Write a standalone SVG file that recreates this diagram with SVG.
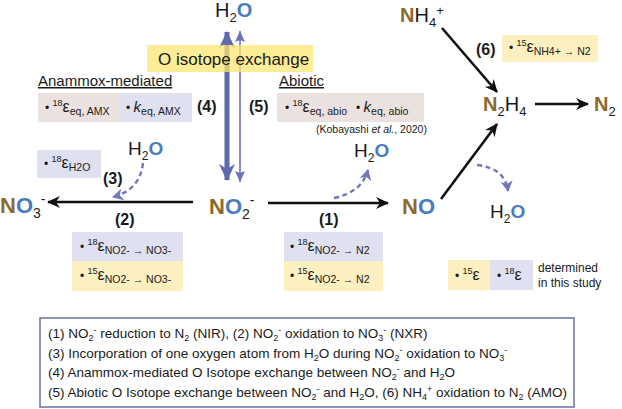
<svg xmlns="http://www.w3.org/2000/svg" width="622" height="409" viewBox="0 0 622 409">
<style>
text{font-family:"Liberation Sans",Arial,Helvetica,sans-serif;fill:#1a1a1a}
.n{fill:#8b6a2e;font-weight:bold}
.o{fill:#4a7bbf;font-weight:bold}
.chem{font-size:20px}
.num{font-size:16px;font-weight:bold}
.bx{font-size:12px}
.pink{fill:#ebe2e0}
.lav{fill:#e0e1f0}
.yel{fill:#fcf0c0}
.blk{stroke:#111;stroke-width:2.6;fill:none}
.dash{stroke:#7277bb;stroke-width:2.4;fill:none;stroke-dasharray:5 3.5}
.lg{font-size:13.5px}
.e{font-size:16px}
.s{font-size:10.5px}
</style>
<defs>
<marker id="ah" markerUnits="userSpaceOnUse" viewBox="0 0 14 14" markerWidth="14" markerHeight="14" refX="12" refY="7" orient="auto-start-reverse">
<path d="M0,1 L13,7 L0,13 L4,7 z" fill="#111"/>
</marker>
<marker id="ahb" markerUnits="userSpaceOnUse" viewBox="0 0 18 18" markerWidth="18" markerHeight="18" refX="16" refY="9" orient="auto-start-reverse">
<path d="M0,1 L17,9 L0,17 L5,9 z" fill="#5f69ad"/>
</marker>
<marker id="ahs" markerUnits="userSpaceOnUse" viewBox="0 0 12 12" markerWidth="12" markerHeight="12" refX="11" refY="6" orient="auto-start-reverse">
<path d="M0,1 L11,6 L0,11 L2,6 z" fill="#6a73b5"/>
</marker>
<marker id="ahd" markerUnits="userSpaceOnUse" viewBox="0 0 12 12" markerWidth="12" markerHeight="12" refX="10" refY="6" orient="auto">
<path d="M0,0 L11,6 L0,12 L3,6 z" fill="#7277bb"/>
</marker>
</defs>

<g id="connectors">
<line x1="227" y1="32" x2="227" y2="180" stroke="#5f69ad" stroke-width="5" marker-start="url(#ahb)" marker-end="url(#ahb)"/>
<line x1="240" y1="31" x2="240" y2="182" stroke="#6a73b5" stroke-width="1.6" marker-start="url(#ahs)" marker-end="url(#ahs)"/>
<line x1="193" y1="202" x2="48" y2="202" class="blk" marker-end="url(#ah)"/>
<line x1="268" y1="203" x2="388" y2="203" class="blk" marker-end="url(#ah)"/>
<line x1="441" y1="199" x2="497" y2="124" class="blk" marker-end="url(#ah)"/>
<line x1="442" y1="28" x2="497" y2="92" class="blk" marker-end="url(#ah)"/>
<line x1="535" y1="104" x2="588" y2="104" class="blk" marker-end="url(#ah)"/>
<path d="M143,163 Q140,190 113,197" class="dash" marker-end="url(#ahd)"/>
<path d="M334,198 Q362,192 368,170" class="dash" marker-end="url(#ahd)"/>
<path d="M477,165 Q505,168 508,191" class="dash" marker-end="url(#ahd)"/>
</g>

<g id="exchange-label">
<rect x="147" y="45" width="166" height="27" fill="#fbe672" opacity="0.75"/>
<text x="158" y="65" font-size="17">O isotope exchange</text>
</g>

<g id="h2o-top">
<text x="215" y="17" class="chem">H<tspan font-size="13" dy="5">2</tspan><tspan class="o" dy="-5">O</tspan></text>
</g>

<g id="anammox">
<text x="38" y="86" font-size="15" text-decoration="underline">Anammox-mediated</text>
<rect x="38" y="93" width="82" height="29" class="pink"/>
<rect x="120" y="93" width="72" height="29" class="lav"/>
<text x="45" y="112" class="bx">• <tspan font-size="9" dy="-6">18</tspan><tspan class="e" dy="6">ε</tspan><tspan class="s" dy="3">eq, AMX</tspan></text>
<text x="126" y="112" class="bx">• <tspan font-size="15" font-style="italic">k</tspan><tspan class="s" dy="3">eq, AMX</tspan></text>
<text x="197" y="112" class="num">(4)</text>
</g>

<g id="abiotic">
<text x="249" y="112" class="num">(5)</text>
<text x="279" y="86" font-size="15" text-decoration="underline">Abiotic</text>
<rect x="277" y="93" width="147" height="29" class="pink"/>
<text x="285" y="112" class="bx">• <tspan font-size="9" dy="-6">18</tspan><tspan class="e" dy="6">ε</tspan><tspan class="s" dy="3">eq, abio</tspan></text>
<text x="356" y="112" class="bx">• <tspan font-size="15" font-style="italic">k</tspan><tspan class="s" dy="3">eq, abio</tspan></text>
<text x="316" y="133" font-size="10.5">(Kobayashi <tspan font-style="italic">et al.</tspan>, 2020)</text>
</g>

<g id="nh4">
<text x="400" y="22" class="chem"><tspan class="n">N</tspan>H<tspan font-size="13" dy="5">4</tspan><tspan font-size="13" dy="-12">+</tspan></text>
<text x="476" y="55" class="num">(6)</text>
<rect x="502" y="35" width="96" height="27" class="yel"/>
<text x="509" y="52" class="bx">• <tspan font-size="9" dy="-6">15</tspan><tspan class="e" dy="6">ε</tspan><tspan class="s" dy="3">NH4+ → N2</tspan></text>
</g>

<g id="n2h4">
<text x="483" y="111" class="chem"><tspan class="n">N</tspan><tspan font-size="13" dy="5">2</tspan><tspan dy="-5">H</tspan><tspan font-size="13" dy="5">4</tspan></text>
</g>

<g id="n2">
<text x="594" y="111" class="chem"><tspan class="n">N</tspan><tspan font-size="13" dy="5">2</tspan></text>
</g>

<g id="eps-h2o">
<rect x="37" y="150" width="64" height="28" class="lav"/>
<text x="44" y="168" class="bx">• <tspan font-size="9" dy="-6">18</tspan><tspan class="e" dy="6">ε</tspan><tspan class="s" dy="3">H2O</tspan></text>
<text x="103" y="184" class="num">(3)</text>
</g>

<g id="h2o-3">
<text x="128" y="155" font-size="19">H<tspan font-size="12" dy="5">2</tspan><tspan class="o" dy="-5">O</tspan></text>
</g>

<g id="no3">
<text x="0" y="213" font-size="22"><tspan class="n">N</tspan><tspan class="o">O</tspan><tspan font-size="14" dy="5">3</tspan><tspan font-size="14" dy="-14">-</tspan></text>
</g>

<g id="no2">
<text x="209" y="214" font-size="22"><tspan class="n">N</tspan><tspan class="o">O</tspan><tspan font-size="14" dy="5">2</tspan><tspan font-size="14" dy="-14">-</tspan></text>
</g>

<g id="nxr">
<text x="115" y="225" class="num">(2)</text>
<rect x="72" y="232" width="111" height="29" class="lav"/>
<rect x="72" y="261" width="111" height="30" class="yel"/>
<text x="80" y="251" class="bx">• <tspan font-size="9" dy="-6">18</tspan><tspan class="e" dy="6">ε</tspan><tspan class="s" dy="3">NO2- → NO3-</tspan></text>
<text x="80" y="280" class="bx">• <tspan font-size="9" dy="-6">15</tspan><tspan class="e" dy="6">ε</tspan><tspan class="s" dy="3">NO2- → NO3-</tspan></text>
</g>

<g id="nir">
<text x="319" y="225" class="num">(1)</text>
<rect x="284" y="232" width="99" height="29" class="lav"/>
<rect x="284" y="261" width="99" height="30" class="yel"/>
<text x="290" y="251" class="bx">• <tspan font-size="9" dy="-6">18</tspan><tspan class="e" dy="6">ε</tspan><tspan class="s" dy="3">NO2- → N2</tspan></text>
<text x="290" y="280" class="bx">• <tspan font-size="9" dy="-6">15</tspan><tspan class="e" dy="6">ε</tspan><tspan class="s" dy="3">NO2- → N2</tspan></text>
</g>

<g id="h2o-1">
<text x="354" y="157" font-size="19">H<tspan font-size="12" dy="5">2</tspan><tspan class="o" dy="-5">O</tspan></text>
</g>

<g id="no">
<text x="402" y="214" font-size="22"><tspan class="n">N</tspan><tspan class="o">O</tspan></text>
</g>

<g id="h2o-no">
<text x="490" y="218" font-size="19">H<tspan font-size="12" dy="5">2</tspan><tspan class="o" dy="-5">O</tspan></text>
</g>

<g id="key">
<rect x="448" y="260" width="42" height="30" class="yel"/>
<rect x="490" y="260" width="43" height="30" class="lav"/>
<text x="455" y="280" class="bx">• <tspan font-size="9" dy="-6">15</tspan><tspan class="e" dy="6">ε</tspan></text>
<text x="497" y="280" class="bx">• <tspan font-size="9" dy="-6">18</tspan><tspan class="e" dy="6">ε</tspan></text>
<text x="538" y="272" font-size="12">determined</text>
<text x="538" y="287" font-size="12">in this study</text>
</g>

<g id="legend">
<rect x="40" y="318" width="534" height="89" fill="#fff" stroke="#6a73a8" stroke-width="1.5"/>
<text x="48" y="338" class="lg">(1) NO<tspan font-size="9" dy="3">2</tspan><tspan font-size="9" dy="-8">-</tspan><tspan dy="5"> reduction to N</tspan><tspan font-size="9" dy="3">2</tspan><tspan dy="-3"> (NIR),  (2) NO</tspan><tspan font-size="9" dy="3">2</tspan><tspan font-size="9" dy="-8">-</tspan><tspan dy="5"> oxidation to NO</tspan><tspan font-size="9" dy="3">3</tspan><tspan font-size="9" dy="-8">-</tspan><tspan dy="5"> (NXR)</tspan></text>
<text x="48" y="358" class="lg">(3) Incorporation of one oxygen atom from H<tspan font-size="9" dy="3">2</tspan><tspan dy="-3">O during NO</tspan><tspan font-size="9" dy="3">2</tspan><tspan font-size="9" dy="-8">-</tspan><tspan dy="5"> oxidation to NO</tspan><tspan font-size="9" dy="3">3</tspan><tspan font-size="9" dy="-8">-</tspan></text>
<text x="48" y="377" class="lg">(4) Anammox-mediated O Isotope exchange between NO<tspan font-size="9" dy="3">2</tspan><tspan font-size="9" dy="-8">-</tspan><tspan dy="5"> and H</tspan><tspan font-size="9" dy="3">2</tspan><tspan dy="-3">O</tspan></text>
<text x="48" y="397" class="lg">(5) Abiotic O Isotope exchange between NO<tspan font-size="9" dy="3">2</tspan><tspan font-size="9" dy="-8">-</tspan><tspan dy="5"> and H</tspan><tspan font-size="9" dy="3">2</tspan><tspan dy="-3">O,  (6) NH</tspan><tspan font-size="9" dy="3">4</tspan><tspan font-size="9" dy="-8">+</tspan><tspan dy="5"> oxidation to N</tspan><tspan font-size="9" dy="3">2</tspan><tspan dy="-3"> (AMO)</tspan></text>
</g>
</svg>
